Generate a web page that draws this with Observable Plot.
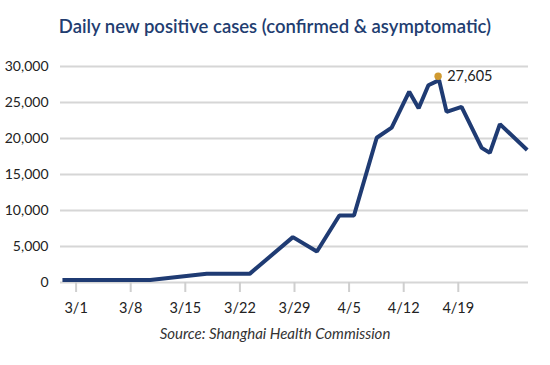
<!DOCTYPE html>
<html><head><meta charset="utf-8">
<script src="https://cdn.jsdelivr.net/npm/d3@7"></script>
<script src="https://cdn.jsdelivr.net/npm/@observablehq/plot@0.6"></script>
<style>
body{margin:0;background:#fff;}
#wrap{width:550px;height:365px;font-family:Lato,sans-serif;}
#title{padding-top:14px;height:26px;line-height:24px;text-align:center;font-size:18.5px;font-weight:600;color:#223d70;}
#chart svg{display:block;}
#caption{text-align:center;font-style:italic;font-size:15px;line-height:20px;margin-top:3px;color:#333;}
</style></head><body>
<div id="wrap">
<div id="title">Daily new positive cases (confirmed &amp; asymptomatic)</div>
<div id="chart"></div>
<div id="caption">Source: Shanghai Health Commission</div>
</div>
<script>
const dates = ["2022-02-27T06:00","2022-03-10T12:00","2022-03-17T18:00","2022-03-23T06:00","2022-03-28T19:00",
  "2022-03-31T21:00","2022-04-03T18:00","2022-04-05T15:00","2022-04-08T13:00","2022-04-10T11:00",
  "2022-04-12T17:00","2022-04-13T22:00","2022-04-15T04:00","2022-04-16T13:00","2022-04-17T12:00",
  "2022-04-19T10:00","2022-04-22T00:00","2022-04-23T01:00","2022-04-24T08:00","2022-04-27T20:00"];
const cases = [350,350,1200,1200,6300,4300,9300,9300,20100,21500,26500,24200,27400,28100,23700,24400,18700,18000,22000,18400];
const tickDates = ["2022-03-01T00:00","2022-03-08T00:00","2022-03-15T00:00","2022-03-22T00:00","2022-03-29T00:00","2022-04-05T00:00","2022-04-12T00:00","2022-04-19T00:00"];
const tickLabels = ["3/1","3/8","3/15","3/22","3/29","4/5","4/12","4/19"];
const yTicks = [0,5000,10000,15000,20000,25000,30000];
const xDomain = ["2022-02-27T00:00","2022-04-28T00:00"];
const peakLabel = ["27,605"];

const data = dates.map((d,i)=>({date:new Date(d), value:cases[i]}));
const peak = [data[d3.maxIndex(cases)]];
const labelMap = new Map(tickDates.map((d,i)=>[+new Date(d), tickLabels[i]]));

const chart = Plot.plot({
  width:550, height:280,
  marginLeft:60, marginRight:22, marginTop:26, marginBottom:38,
  style:{fontFamily:"Lato, sans-serif", fontSize:"14px", color:"#222", background:"white"},
  x:{type:"time", domain:xDomain.map(d=>new Date(d))},
  y:{domain:[0,30000]},
  marks:[
    Plot.ruleY(yTicks, {stroke:"#d6d6d6", strokeWidth:2}),
    Plot.axisY({ticks:yTicks, tickSize:0, tickPadding:12, tickFormat:d3.format(","), label:null, fontSize:14, fill:"#222"}),
    Plot.axisX({ticks:tickDates.map(d=>new Date(d)), tickSize:10, tickPadding:10, tickFormat:d=>labelMap.get(+d), label:null, stroke:"#cfcfcf", strokeWidth:2, fill:"#222", fontSize:14.5}),
    Plot.line(data, {x:"date", y:"value", stroke:"#1f3b73", strokeWidth:4, strokeLinejoin:"miter", strokeLinecap:"butt"}),
    Plot.dot(peak, {x:"date", y:"value", r:3.7, fill:"#d09a30", stroke:null, dx:-1, dy:-4}),
    Plot.text(peak, {x:"date", y:"value", text:()=>peakLabel[0], textAnchor:"start", dx:8, dy:-4, fontSize:14.5, fill:"#222"})
  ]
});
document.getElementById("chart").append(chart);
</script>
</body></html>
